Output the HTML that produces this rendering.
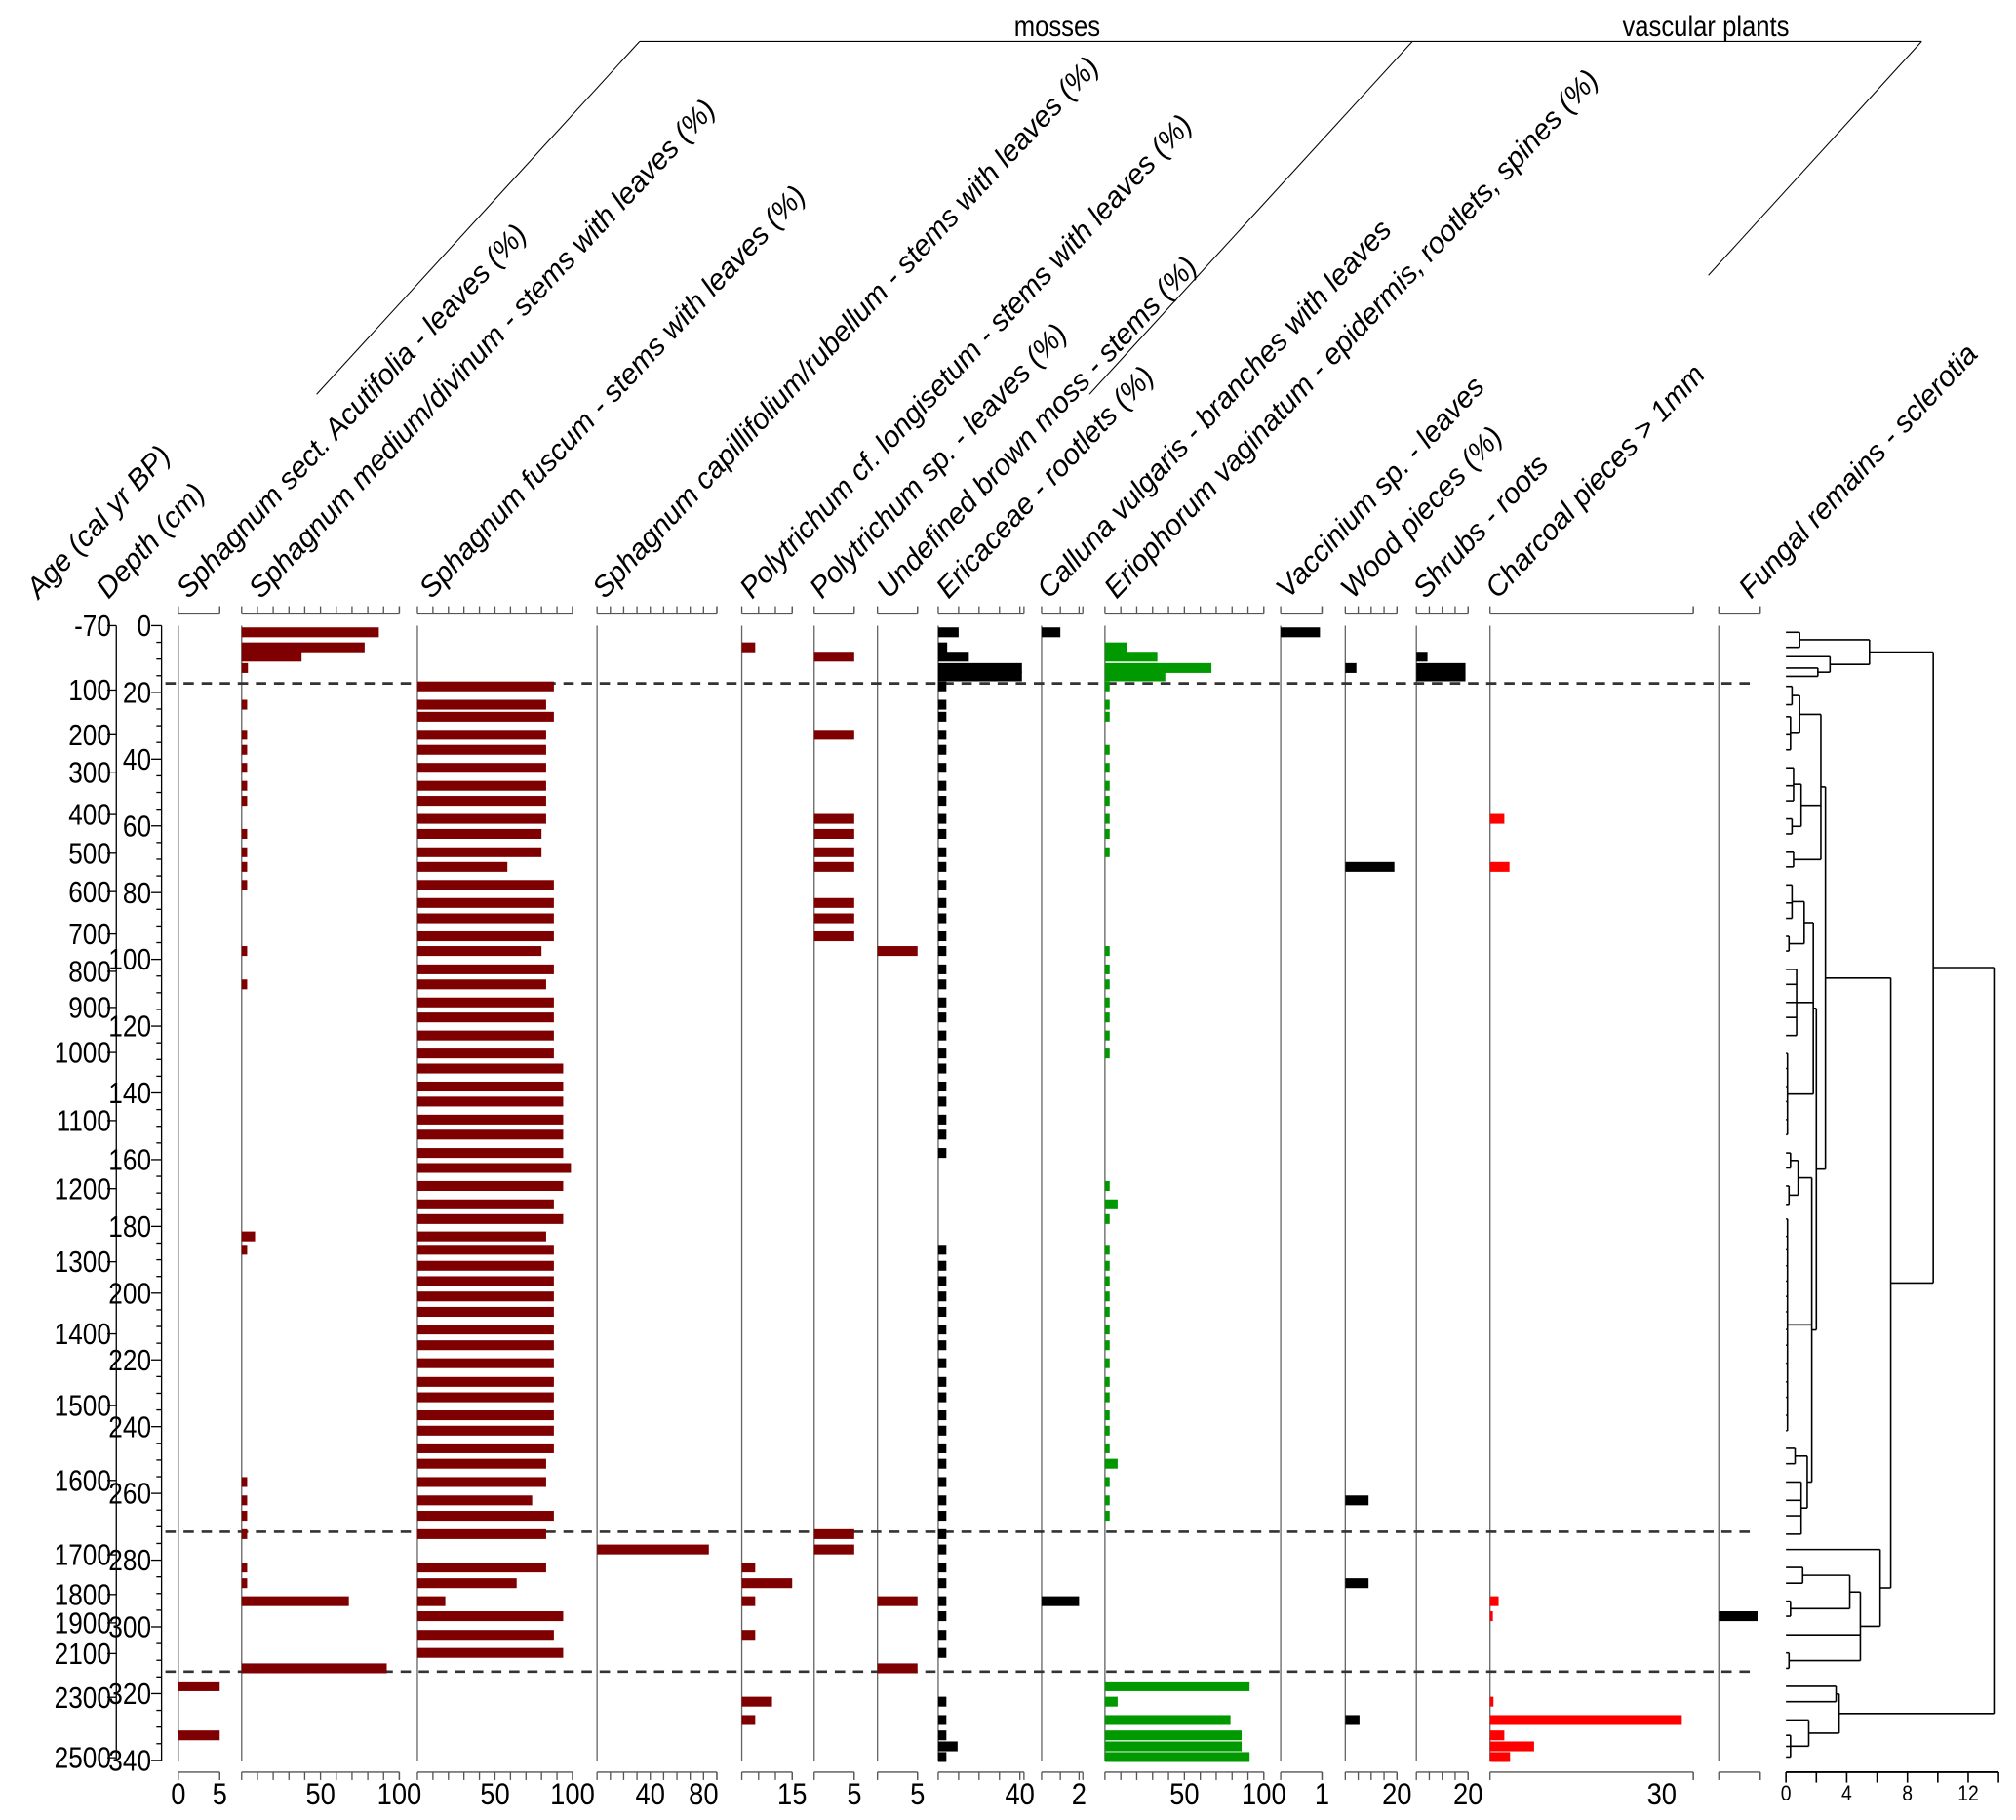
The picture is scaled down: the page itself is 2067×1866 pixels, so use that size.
<!DOCTYPE html>
<html><head><meta charset="utf-8"><title>Plant macrofossil diagram</title>
<style>
html,body{margin:0;padding:0;background:#fff;}
svg{display:block;}
text{font-family:"Liberation Sans Narrow","Liberation Sans",sans-serif;fill:#000;}
</style></head>
<body>
<svg id="chart" xmlns="http://www.w3.org/2000/svg" width="2067" height="1866" viewBox="0 0 1560 1408" preserveAspectRatio="none">
<g id="header">
  <line x1="495" y1="32" x2="1487" y2="32" stroke="#000" stroke-width="0.8"/>
  <line x1="495" y1="32" x2="245" y2="305" stroke="#000" stroke-width="0.8"/>
  <line x1="1093" y1="32" x2="843" y2="305" stroke="#000" stroke-width="0.8"/>
  <line x1="1487" y1="32" x2="1322" y2="213" stroke="#000" stroke-width="0.8"/>
  <text x="818" y="28" font-size="22" text-anchor="middle" transform="matrix(0.88,0,0,1,98.2,0)">mosses</text>
  <text x="1320" y="28" font-size="22" text-anchor="middle" transform="matrix(0.88,0,0,1,158.4,0)">vascular plants</text>
</g>
<g id="titles" font-size="22.5" font-style="italic"></g>
<g id="axes"></g>
<g id="bars"></g>
<g id="dendro"></g>
</svg>
<script>
// ---- data ----
const sampleDepths=[2,6.5,9.3,12.7,15.2,18.2,23.7,27.3,32.7,37.2,42.6,48,52.5,57.9,62.4,67.9,72.3,77.7,83.1,87.7,93.1,97.5,103,107.5,112.9,117.4,122.8,128.2,132.7,138.1,142.6,148,152.5,158,162.5,167.9,173.4,177.8,183,187,191.8,196.4,201,205.6,210.9,215.6,221,226.6,231.2,236.6,241.2,246.5,251.1,256.6,262.1,266.7,272.2,276.8,282.2,286.9,292.3,296.8,302.4,307.8,312.4,317.8,322.4,327.9,332.5,335.8,339];
const fuscumValues=[0,0,0,0,0, 88,83,88,83,83,83,83,83,83,80,80,58, 88,88,88,88,80,88,83,88,88,88,88,94,94,94,94,94,94,99,94,88,94,83, 88,88,88,88,88,88,88,88,88,88,88,88,88, 83,83,74,88,83, 0,83,64,18,94,88,94,0, 0,0,0,0,0,0];
const mediumRows=[0,1,2,3,6,8,9,10,11,12,14,15,16,17,21,23,38,39,53,54,55,56,58,59,60,64];
const mediumValues=[87,78,38,4,3.5,3.5,3.5,3.5,3.5,3.5,3.5,3.5,3.5,3.5,3.5,3.5,8.5,3.5,3.5,3.5,3.5,3.5,3.5,3.5,68,92];
const acutifoliaRows=[65,68];
const acutifoliaValues=[5,5];
const capillifoliumRows=[57];
const capillifoliumValues=[84];
const longisetumRows=[1,58,59,60,62,66,67];
const longisetumValues=[4,4,15,4,4,9,4];
const polytrichumRows=[2,8,13,14,15,16,18,19,20,56,57];
const polytrichumValues=[5,5,5,5,5,5,5,5,5,5,5];
const brownMossRows=[21,60,64];
const brownMossValues=[5,5,5];
const ericaceaeValues=[10,4.4,15,41,41, 4,4,4,4,4,4,4,4,4,4,4,4,4,4,4,4,4,4,4,4,4,4,4,4,4,4,4,4,4, 0,0,0,0,0, 4,4,4,4,4,4,4,4,4,4,4,4,4,4,4,4,4,4,4,4,4,4,4,4,4, 0,0,4,4,4,9.5,4];
const callunaRows=[0,60];
const callunaValues=[1,2];
const eriophorumValues=[0,14,33,67,38, 3,3,3,0, 3,3,3,3,3,3,3, 0,0,0,0,0, 3,3,3,3,3,3,3, 0,0,0,0,0,0,0, 3,8,3,0, 3,3,3,3,3,3,3,3,3,3,3,3,3, 8, 3,3,3, 0,0,0,0,0,0,0,0,0, 91,8,79,86,86,91];
const vacciniumRows=[0];
const vacciniumValues=[0.95];
const woodRows=[3,16,54,59,67];
const woodValues=[4.3,19,9,9,5.5];
const shrubRows=[2,3,4];
const shrubValues=[4.3,19,19];
const charcoalRows=[13,16,60,61,66,67,68,69,70];
const charcoalValues=[2.5,3.4,1.5,0.5,0.6,33.5,2.5,7.7,3.5];
const fungalRows=[61];
const fungalValues=[1];
const ageLabels=["-70","100","200","300","400","500","600","700","800","900","1000","1100","1200","1300","1400","1500","1600","1700","1800","1900","2100","2300","2500"];
const ageDepths=[0,19.3,32.7,43.9,56.6,68.2,79.7,92.4,103.6,114.4,127.9,148.3,168.7,190.6,212.2,233.7,256.1,278.4,290.3,298.8,308,321.1,339.2];
const depthLabels=[0,20,40,60,80,100,120,140,160,180,200,220,240,260,280,300,320,340];
const zoneDepths=[17.3,271.5,313.4];
const dendroTicks=[0,4,8,12];
// dendrogram tree: [height, children...]; numbers are sample indices
const dendroTree=[13.7,
  [9.7,
    [5.5,[0.9,0,1],[2.9,2,[2.1,3,4]]],
    [6.9,
      [2.6,
        [2.3,[0.9,[0.4,5,6],[0.3,7,8,9]],[1.0,[0.5,10,11,12],[0.4,13,14]],[0.5,15,16]],
        [2.0,
          [1.8,[1.2,[0.4,17,18,19],[0.2,20,21]],[0.7,22,23,24,25,26],[0.1,27,28,29,30,31,32]],
          [1.7,[0.8,[0.3,33,34],[0.2,35,36]],[0.1,37,38,39,40,41,42,43,44,45,46,47,48,49,50],[1.4,[0.6,51,52],[1.0,53,54,55,56]]]
        ]
      ],
      [6.2,57,[4.9,[4.2,[1.1,58,59],[0.3,60,61]],62,[0.2,63,64]]]
    ]
  ],
  [3.5,[3.3,65,66],[1.5,67,[0.3,68,69,70]]]
];

// ---- layout ----
const NS="http://www.w3.org/2000/svg";
const Y0=484, PXCM=2.582, AXB=1371, AXT=475, YEND=1362, NARROW=0.86, LBLY=1396, TY=464;
function yOf(d){return Y0+d*PXCM;}
function mk(tag,attrs,parent){const e=document.createElementNS(NS,tag);for(const k in attrs)e.setAttribute(k,attrs[k]);parent.appendChild(e);return e;}
function ntext(x,y,size,anchor,parent){
  return mk('text',{x:x,y:y,'font-size':size,'text-anchor':anchor,transform:'matrix('+NARROW+',0,0,1,'+(x*(1-NARROW))+',0)'},parent);
}
function full(rows,vals){const a=new Array(sampleDepths.length).fill(0);rows.forEach((r,i)=>a[r]=vals[i]);return a;}
const DR="#7f0000",BK="#000",GR="#009a00",RD="#ff0000";
const columns=[
 {name:"sphagnum-acutifolia",base:138,s:6.4,max:5,step:5,labels:[0,5],vals:full(acutifoliaRows,acutifoliaValues),c:DR,title:[["Sphagnum",1],[" sect. Acutifolia - leaves (%)",0]],tx:146},
 {name:"sphagnum-medium",base:187,s:1.22,max:100,step:10,labels:[50,100],vals:full(mediumRows,mediumValues),c:DR,title:[["Sphagnum",1],[" medium/divinum - stems with leaves (%)",0]],tx:202},
 {name:"sphagnum-fuscum",base:323,s:1.2,max:100,step:10,labels:[50,100],vals:fuscumValues,c:DR,title:[["Sphagnum",1],[" fuscum - stems with leaves (%)",0]],tx:334},
 {name:"sphagnum-capillifolium",base:462,s:1.03,max:90,step:10,labels:[40,80],vals:full(capillifoliumRows,capillifoliumValues),c:DR,title:[["Sphagnum",1],[" capillifolium/rubellum - stems with leaves (%)",0]],tx:468},
 {name:"polytrichum-longisetum",base:574,s:2.6,max:15,step:5,labels:[15],vals:full(longisetumRows,longisetumValues),c:DR,title:[["Polytrichum",1],[" cf. longisetum - stems with leaves (%)",0]],tx:582},
 {name:"polytrichum-sp",base:630,s:6.2,max:5,step:5,labels:[5],vals:full(polytrichumRows,polytrichumValues),c:DR,title:[["Polytrichum",1],[" sp. - leaves (%)",0]],tx:636},
 {name:"brown-moss",base:679,s:6.2,max:5,step:5,labels:[5],vals:full(brownMossRows,brownMossValues),c:DR,title:[["Undefined brown moss - stems (%)",0]],tx:688},
 {name:"ericaceae",base:726,s:1.58,max:42,step:10,labels:[40],vals:ericaceaeValues,c:BK,title:[["Ericaceae - rootlets (%)",0]],tx:734},
 {name:"calluna",base:806,s:14.5,max:2.2,step:1,labels:[2],vals:full(callunaRows,callunaValues),c:BK,title:[["Calluna vulgaris",1],[" - branches with leaves",0]],tx:812},
 {name:"eriophorum",base:855,s:1.23,max:100,step:10,labels:[50,100],vals:eriophorumValues,c:GR,title:[["Eriophorum vaginatum",1],[" - epidermis, rootlets, spines (%)",0]],tx:864},
 {name:"vaccinium",base:991,s:32,max:1,step:1,labels:[1],vals:full(vacciniumRows,vacciniumValues),c:BK,title:[["Vaccinium",1],[" sp. - leaves",0]],tx:997},
 {name:"wood-pieces",base:1041,s:2,max:20,step:5,labels:[20],vals:full(woodRows,woodValues),c:BK,title:[["Wood pieces (%)",0]],tx:1047},
 {name:"shrub-roots",base:1096,s:2,max:20,step:5,labels:[20],vals:full(shrubRows,shrubValues),c:BK,title:[["Shrubs - roots",0]],tx:1103},
 {name:"charcoal",base:1153,s:4.43,max:35.5,step:35.5,labels:[30],vals:full(charcoalRows,charcoalValues),c:RD,title:[["Charcoal pieces &gt; 1mm",0]],tx:1159},
 {name:"fungal-sclerotia",base:1330,s:30,max:1.07,step:1.07,labels:[],vals:full(fungalRows,fungalValues),c:BK,title:[["Fungal remains - sclerotia",0]],tx:1355}
];
const gT=document.getElementById('titles'),gA=document.getElementById('axes'),gB=document.getElementById('bars'),gD=document.getElementById('dendro');

// titles
function title(x,parts,name){
  const t=mk('text',{x:x,y:TY,transform:'rotate(-47 '+x+' '+TY+')'},gT);
  
  
  t.innerHTML=parts.map(p=>p[1]?'<tspan font-style="italic">'+p[0]+'</tspan>':'<tspan>'+p[0]+'</tspan>').join('');
}
title(30,[["Age (cal yr BP)",0]],'age-axis-title');
title(84,[["Depth (cm)",0]],'depth-axis-title');
columns.forEach(c=>title(c.tx,c.title,c.name+'-title'));

// age axis
const ageLine=mk('line',{x1:90,y1:yOf(0),x2:90,y2:YEND,stroke:'#000','stroke-width':1},gA);


ageLabels.forEach((l,i)=>{
  const y=yOf(ageDepths[i]);
  const tk=mk('line',{x1:83,y1:y,x2:90,y2:y,stroke:'#000','stroke-width':1},gA);
  
  
  const t=ntext(86,y+8,23,'end',gA);
  
  
  t.textContent=l;
});
// depth axis
const depLine=mk('line',{x1:125,y1:yOf(0),x2:125,y2:YEND,stroke:'#000','stroke-width':1},gA);


for(let d=0;d<=340;d+=5){
  const y=yOf(d);const major=d%20===0;
  const tk=mk('line',{x1:major?117:121,y1:y,x2:125,y2:y,stroke:'#000','stroke-width':1},gA);
  
  
}
depthLabels.forEach(d=>{
  const t=ntext(117,yOf(d)+8,23,'end',gA);
  
  
  t.textContent=d;
});

// columns
columns.forEach(c=>{
  const xOf=v=>c.base+v*c.s;
  const xe=xOf(c.max);
  const vl=mk('line',{x1:c.base,y1:yOf(0),x2:c.base,y2:YEND,stroke:'#666','stroke-width':1},gA);
  
  
  [[AXT,-6],[AXB,6]].forEach(([ay,dir],k)=>{
    const al=mk('line',{x1:c.base,y1:ay,x2:xe,y2:ay,stroke:'#555','stroke-width':1},gA);
    
    
    for(let v=0;v<=c.max+1e-6;v+=c.step){
      const tk=mk('line',{x1:xOf(v),y1:ay,x2:xOf(v),y2:ay+dir,stroke:'#555','stroke-width':1},gA);
      
      
    }
    const tk2=mk('line',{x1:xe,y1:ay,x2:xe,y2:ay+dir,stroke:'#555','stroke-width':1},gA);
    
    
  });
  c.labels.forEach(v=>{
    const t=ntext(xOf(v),LBLY,24,'middle',gA);
    
    
    t.textContent=v;
  });
  c.vals.forEach((v,i)=>{
    if(!v)return;
    const r=mk('rect',{x:c.base,y:yOf(sampleDepths[i])-3.8,width:v*c.s,height:7.6,fill:c.c},gB);
    
    
  });
});

// zone lines
zoneDepths.forEach(d=>{
  const l=mk('line',{x1:128,y1:yOf(d),x2:1358,y2:yOf(d),stroke:'#333','stroke-width':2,'stroke-dasharray':'8 6'},gA);
  
  
});

// dendrogram
const DX0=1382,DS=11.75;
function dx(h){return DX0+h*DS;}
function drawNode(n){
  if(typeof n==='number')return {x:DX0,y:yOf(sampleDepths[n])};
  const h=n[0];const kids=n.slice(1).map(drawNode);const x=dx(h);
  kids.forEach(k=>{
    const l=mk('line',{x1:k.x,y1:k.y,x2:x,y2:k.y,stroke:'#000','stroke-width':1.2},gD);
    
    
  });
  const ys=kids.map(k=>k.y);const y1=Math.min(...ys),y2=Math.max(...ys);
  const v=mk('line',{x1:x,y1:y1,x2:x,y2:y2,stroke:'#000','stroke-width':1.2},gD);
  
  
  return {x:x,y:(y1+y2)/2};
}
drawNode(dendroTree);
const dAx=mk('line',{x1:dx(0),y1:AXB,x2:dx(14),y2:AXB,stroke:'#000','stroke-width':1.4},gD);


for(let v=0;v<=14;v+=2){
  const tk=mk('line',{x1:dx(v),y1:AXB,x2:dx(v),y2:AXB+8,stroke:'#000','stroke-width':1.2},gD);
  
  
}
dendroTicks.forEach(v=>{
  const t=ntext(dx(v),LBLY-3,17,'middle',gD);
  
  
  t.textContent=v;
});
</script>
</body></html>
